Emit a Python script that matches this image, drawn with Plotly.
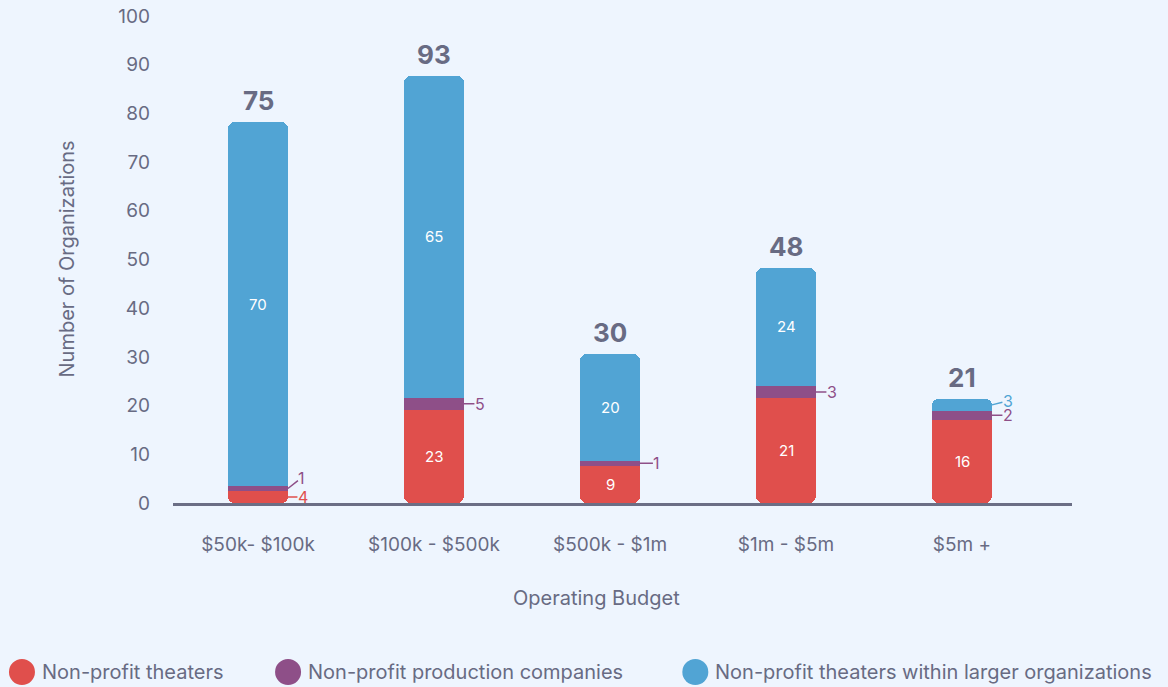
import plotly.graph_objects as go

categories = ['$50k- $100k', '$100k - $500k', '$500k - $1m', '$1m - $5m', '$5m +']
series_names = ['Non-profit theaters', 'Non-profit production companies',
                'Non-profit theaters within larger organizations']
colors = ['#e04f4c', '#8e4f88', '#51a4d4']

# bar heights as drawn in the picture
red_h = [2.5, 19.2, 7.7, 21.6, 17.1]
purple_h = [0.95, 2.4, 0.9, 2.4, 1.8]
blue_h = [74.7, 66.1, 22.0, 24.3, 2.5]

# printed labels
red_lbl = [4, 23, 9, 21, 16]
purple_lbl = [1, 5, 1, 3, 2]
blue_lbl = [70, 65, 20, 24, 3]
totals = [75, 93, 30, 48, 21]

# which segment labels sit inside the bar
red_in = [False, True, True, True, True]
purple_in = [False] * 5
blue_in = [True, True, True, True, False]

TXT = '#686b83'
FONT = 'Inter'
BG = '#eef5fe'
BW = 0.34
RAD = 7
FILL = 1.44  # ~7px in data units, used to keep the joins square

x = list(range(len(categories)))
blue_base = [r + p for r, p in zip(red_h, purple_h)]
tops = [b + h for b, h in zip(blue_base, blue_h)]

fig = go.Figure()


def bar(y, base, col, rad=0):
    fig.add_trace(go.Bar(x=x, y=y, base=base, width=BW,
                         marker=dict(color=col, cornerradius=rad, line_width=0),
                         showlegend=False, hoverinfo='skip'))


# square fillers under the rounded pieces so the inner joins stay square
bar([min(h, FILL) for h in blue_h], blue_base, colors[2])
bar([min(h, FILL) for h in red_h], [r - min(r, FILL) for r in red_h], colors[0])
# red drawn downward from its top so the rounding lands on the bottom
bar([-v for v in red_h], red_h, colors[0], RAD)
bar(blue_h, blue_base, colors[2], RAD)
bar(purple_h, red_h, colors[1])

ann = []
segs = [
    (red_lbl, [0] * 5, red_h, red_in, colors[0]),
    (purple_lbl, red_h, purple_h, purple_in, colors[1]),
    (blue_lbl, blue_base, blue_h, blue_in, colors[2]),
]
# offsets of outside labels (pixels), per series / bar
out_off = {
    (0, 0): (15, 0),
    (1, 0): (14, -11), (1, 1): (16, 0), (1, 2): (17, 0), (1, 3): (16, 0), (1, 4): (16, 0),
    (2, 4): (16, -4),
}
for s, (lbls, bases, hs, inside, col) in enumerate(segs):
    for i in x:
        mid = bases[i] + hs[i] / 2
        if inside[i]:
            ann.append(dict(x=i, y=mid, text=str(lbls[i]), showarrow=False,
                            font=dict(color='white', size=15, family=FONT)))
        else:
            ax, ay = out_off[(s, i)]
            ann.append(dict(x=i + BW / 2, y=mid, text=str(lbls[i]), showarrow=True,
                            arrowhead=0, arrowwidth=1.5, arrowcolor=col,
                            ax=ax, ay=ay, borderpad=0,
                            font=dict(color=col, size=16, family=FONT)))

for i in x:
    ann.append(dict(x=i, y=tops[i], text='<b>%d</b>' % totals[i], showarrow=False,
                    yanchor='bottom', yshift=4,
                    font=dict(color=TXT, size=26, family=FONT)))

# axis titles
ann.append(dict(xref='paper', yref='paper', x=0.4716, y=-0.195, text='Operating Budget',
                xanchor='center', yanchor='middle',
                showarrow=False, font=dict(color=TXT, size=20, family=FONT)))
ann.append(dict(xref='paper', yref='paper', x=-0.119, y=0.5, text='Number of Organizations',
                xanchor='center', yanchor='middle',
                textangle=-90, showarrow=False, font=dict(color=TXT, size=20, family=FONT)))

# legend drawn as circles + labels
leg_x = [-0.168, 0.128, 0.581]
leg_y = -0.347
shapes = []
for k in range(3):
    shapes.append(dict(type='circle', xref='paper', yref='paper',
                       xsizemode='pixel', ysizemode='pixel',
                       xanchor=leg_x[k], yanchor=leg_y,
                       x0=-13, x1=13, y0=-13, y1=13,
                       fillcolor=colors[k], line_width=0))
    ann.append(dict(xref='paper', yref='paper', x=leg_x[k], xshift=18, y=leg_y,
                    xanchor='left', yanchor='middle', text=series_names[k],
                    showarrow=False, font=dict(color=TXT, size=20, family=FONT)))

fig.update_layout(
    width=1168, height=687,
    margin=dict(l=173, r=96, t=16, b=184, autoexpand=False),
    paper_bgcolor=BG, plot_bgcolor=BG,
    barmode='overlay', bargap=0,
    font=dict(family=FONT, color=TXT),
    annotations=ann, shapes=shapes,
    xaxis=dict(range=[-0.483, 4.625], tickmode='array', tickvals=x, ticktext=categories,
               showgrid=False, zeroline=False, showline=True, linecolor='#6b6e85',
               linewidth=2.5, ticks='', ticklabelstandoff=22, automargin=False,
               tickfont=dict(size=19, color=TXT, family=FONT)),
    yaxis=dict(range=[0, 100], dtick=10, showgrid=False, zeroline=False, showline=False,
               ticks='', ticklabelstandoff=22, automargin=False,
               tickfont=dict(size=19, color=TXT, family=FONT)),
)

fig.write_html('out.html', config={'displayModeBar': False},
               post_script="document.body.style.margin='0';document.body.style.background='%s';" % BG)
